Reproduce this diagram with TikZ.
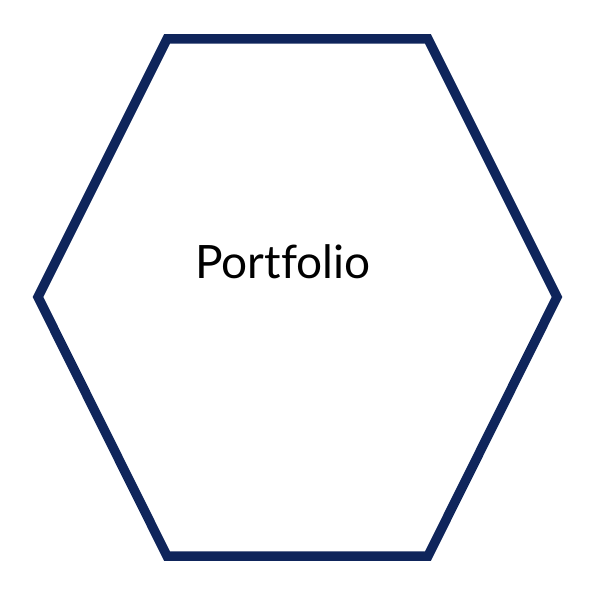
\documentclass[tikz,border=0pt]{standalone}
\usepackage{fontspec}
\setmainfont{Lato}[Ligatures={NoCommon}]
\usetikzlibrary{positioning}
\definecolor{PortNavy}{RGB}{15,37,91}

\begin{document}
\begin{tikzpicture}[x=1pt,y=-1pt]
\useasboundingbox (0,0) rectangle (596,596);
% Hexagon corners, clockwise from the top left.
\coordinate (tl) at (167,39);
\coordinate (tr) at (428,39);
\coordinate (r)  at (557,297);
\coordinate (br) at (428,556);
\coordinate (bl) at (167,556);
\coordinate (l)  at (38,297);
\draw[PortNavy,line width=9.5pt,line join=miter] (tl)--(tr)--(r)--(br)--(bl)--(l)--cycle;
\node[font=\fontsize{46}{56}\selectfont,inner sep=0pt,anchor=base] (label) at (283,278) {Portfolio};
\end{tikzpicture}
\end{document}
